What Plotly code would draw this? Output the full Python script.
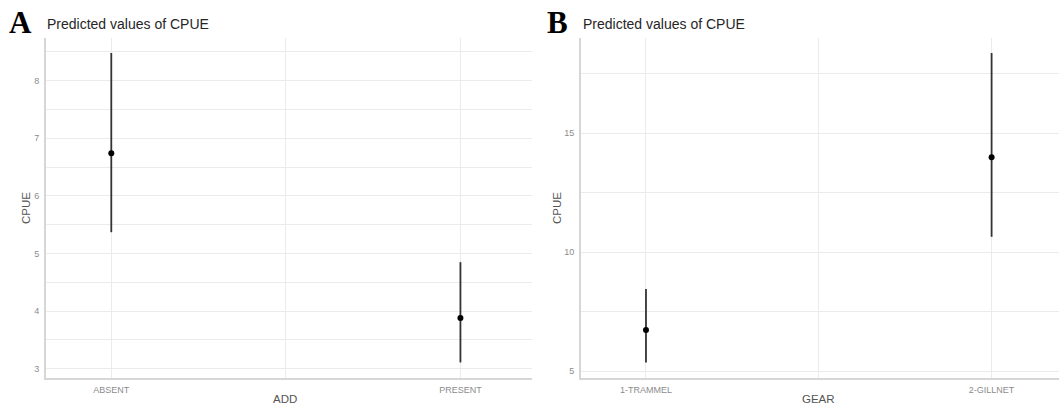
import plotly.graph_objects as go

W, H = 1059, 407

# Panel A data
add_cats = ["ABSENT", "PRESENT"]
add_pred = [6.74, 3.88]
add_low = [5.37, 3.11]
add_high = [8.48, 4.85]

# Panel B data
gear_cats = ["1-TRAMMEL", "2-GILLNET"]
gear_pred = [6.74, 13.99]
gear_low = [5.37, 10.65]
gear_high = [8.46, 18.37]

a_yticks = [3, 4, 5, 6, 7, 8]
a_yminor = [3.5, 4.5, 5.5, 6.5, 7.5, 8.5]
b_yticks = [5, 10, 15]
b_yminor = [7.5, 12.5, 17.5]

GRID = "#ebebeb"
AXLINE = "#d6d6d6"
TICKC = "#8c8c8c"
TITLEC = "#555555"
BAR = "#333333"
FONT = "Liberation Sans, Arial, sans-serif"

fig = go.Figure()

def add_panel(cats, pred, low, high, xa, ya):
    xs = list(range(1, len(cats) + 1))
    fig.add_trace(go.Scatter(
        x=xs, y=pred, mode="markers",
        marker=dict(color="black", size=6),
        error_y=dict(type="data", symmetric=False,
                     array=[h - p for h, p in zip(high, pred)],
                     arrayminus=[p - l for p, l in zip(pred, low)],
                     color=BAR, thickness=1.8, width=0),
        xaxis=xa, yaxis=ya, showlegend=False, hoverinfo="skip"))

add_panel(add_cats, add_pred, add_low, add_high, "x", "y")
add_panel(gear_cats, gear_pred, gear_low, gear_high, "x2", "y2")

ytop = 1 - 38 / H
ybot = 1 - 378 / H

def xaxis(dom, cats, rng, anchor):
    return dict(domain=dom, range=rng, anchor=anchor, tickmode="array",
                tickvals=list(range(1, len(cats) + 1)), ticktext=cats,
                showgrid=True, gridcolor=GRID, gridwidth=1.2,
                minor=dict(tickvals=[1.5], showgrid=True, gridcolor=GRID, gridwidth=1.2),
                showline=True, linecolor=AXLINE, linewidth=1.8,
                zeroline=False, ticks="", ticklabelstandoff=2,
                tickfont=dict(family=FONT, size=9, color=TICKC))

def yaxis(anchor, rng, ticks, minor):
    return dict(domain=[ybot, ytop], range=rng, anchor=anchor,
                tickmode="array", tickvals=ticks,
                showgrid=True, gridcolor=GRID, gridwidth=1.2,
                minor=dict(tickvals=minor, showgrid=True, gridcolor=GRID, gridwidth=1.2),
                showline=True, linecolor=AXLINE, linewidth=1.8,
                zeroline=False, ticks="", ticklabelstandoff=3,
                tickfont=dict(family=FONT, size=9, color=TICKC))

fig.update_layout(
    width=W, height=H,
    margin=dict(l=0, r=0, t=0, b=0),
    paper_bgcolor="white", plot_bgcolor="white",
    xaxis=xaxis([46 / W, 532 / W], add_cats, [0.813, 2.205], "y"),
    yaxis=yaxis("x", [2.84, 8.74], a_yticks, a_yminor),
    xaxis2=xaxis([581 / W, 1.0], gear_cats, [0.812, 2.195], "y2"),
    yaxis2=yaxis("x2", [4.72, 19.0], b_yticks, b_yminor),
)

ann = []
def txt(x, y, s, size, color, family=FONT, xanchor="left", angle=0, bold=False):
    ann.append(dict(x=x / W, y=1 - y / H, xref="paper", yref="paper", text=("<b>%s</b>" % s) if bold else s,
                    showarrow=False, xanchor=xanchor, yanchor="middle", textangle=angle,
                    font=dict(family=family, size=size, color=color)))

SERIF = "Liberation Serif, Times New Roman, serif"
txt(7, 23, "A", 31, "black", family=SERIF, bold=True)
txt(545, 23, "B", 31, "black", family=SERIF, bold=True)
txt(45, 24, "Predicted values of CPUE", 14, "#262626")
txt(581, 24, "Predicted values of CPUE", 14, "#262626")
txt(285, 399, "ADD", 11.5, TITLEC, xanchor="center")
txt(818.7, 399, "GEAR", 11.5, TITLEC, xanchor="center")
txt(26, 208, "CPUE", 11.5, TITLEC, xanchor="center", angle=-90)
txt(557, 208, "CPUE", 11.5, TITLEC, xanchor="center", angle=-90)
fig.update_layout(annotations=ann)

fig.write_html("out.html", config={"displayModeBar": False},
               post_script="document.body.style.margin='0';document.body.style.overflow='hidden';")
